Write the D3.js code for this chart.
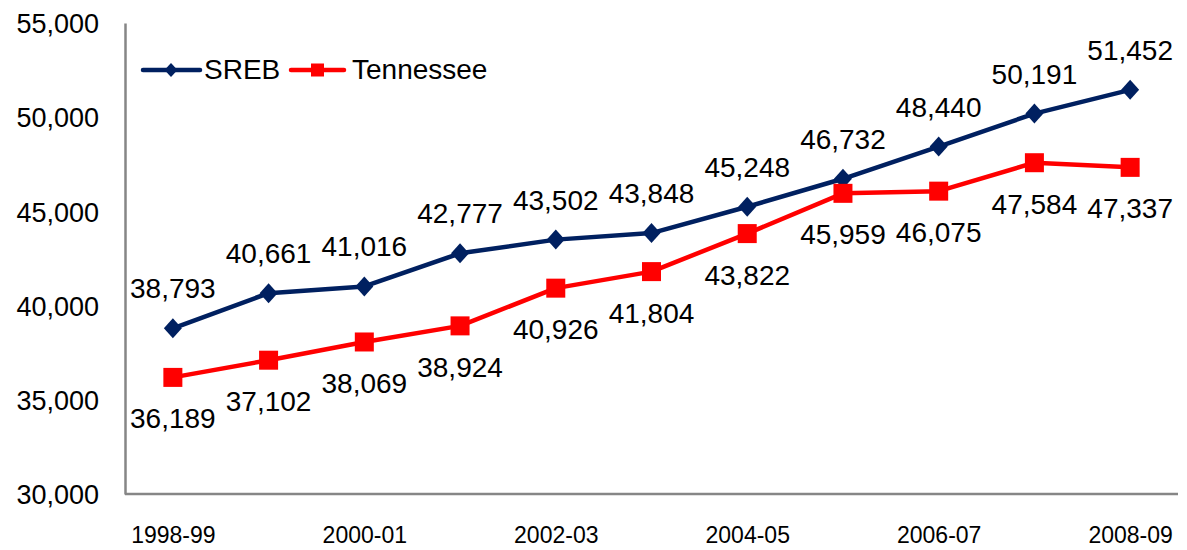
<!DOCTYPE html>
<html><head><meta charset="utf-8">
<script src="https://cdn.jsdelivr.net/npm/d3@7"></script>
<style>body{margin:0;background:#fff;} text{font-family:"Liberation Sans",Arial,sans-serif;}</style>
</head><body>
<svg id="c" width="1187" height="550"></svg>
<script>
const categories = ["1998-99","1999-00","2000-01","2001-02","2002-03","2003-04","2004-05","2005-06","2006-07","2007-08","2008-09"];
const sreb = [38793,40661,41016,42777,43502,43848,45248,46732,48440,50191,51452];
const tennessee = [36189,37102,38069,38924,40926,41804,43822,45959,46075,47584,47337];
const yTicks = [30000,35000,40000,45000,50000,55000];
const xTickLabels = ["1998-99","2000-01","2002-03","2004-05","2006-07","2008-09"];

const svg = d3.select("#c");
const L = 125, R = 1178, T = 23, B = 494;
const x = d3.scalePoint().domain(categories).range([L, R]).padding(0.5);
const y = d3.scaleLinear().domain([30000,55000]).range([B, T]);
const fmt = d3.format(",");
const FS = 27, LFS = 28;

// axes
const ya = svg.append("g").attr("transform",`translate(${L},0)`).call(d3.axisLeft(y).tickValues(yTicks).tickSize(0).tickPadding(26).tickFormat(fmt));
ya.select(".domain").attr("stroke","#868686").attr("stroke-width",2.5);
ya.selectAll("text").attr("font-size",FS).attr("fill","#000").attr("font-family","Liberation Sans, Arial, sans-serif").attr("dy","0.36em");

const xa = svg.append("g").attr("transform",`translate(0,${B})`).call(d3.axisBottom(x).tickValues(xTickLabels).tickSize(0).tickPadding(33));
xa.select(".domain").attr("stroke","#868686").attr("stroke-width",2.5).attr("d",`M${L},0H${R}`);
xa.selectAll("text").attr("font-size",23).attr("fill","#000").attr("font-family","Liberation Sans, Arial, sans-serif");

const line = d3.line().x((d,i)=>x(categories[i])).y(d=>y(d));
const navy = "#002060", red = "#ff0000";

svg.append("path").datum(sreb).attr("d",line).attr("fill","none").attr("stroke",navy).attr("stroke-width",4.5).attr("stroke-linejoin","round");
svg.append("path").datum(tennessee).attr("d",line).attr("fill","none").attr("stroke",red).attr("stroke-width",4.5).attr("stroke-linejoin","round");

const diamond = (cx,cy,h,w)=>`M${cx},${cy-h}L${cx+w},${cy}L${cx},${cy+h}L${cx-w},${cy}Z`;
svg.selectAll(".sd").data(sreb).enter().append("path").attr("d",(d,i)=>diamond(x(categories[i]),y(d),10,9)).attr("fill",navy);
svg.selectAll(".tq").data(tennessee).enter().append("rect")
  .attr("x",(d,i)=>x(categories[i])-9.5).attr("y",d=>y(d)-9.5).attr("width",19).attr("height",19).attr("fill",red);

svg.selectAll(".sl").data(sreb).enter().append("text")
  .attr("x",(d,i)=>x(categories[i])).attr("y",d=>y(d)-30).attr("text-anchor","middle")
  .attr("font-size",LFS).attr("fill","#000").text(d=>fmt(d));
svg.selectAll(".tl").data(tennessee).enter().append("text")
  .attr("x",(d,i)=>x(categories[i])).attr("y",d=>y(d)+51).attr("text-anchor","middle")
  .attr("font-size",LFS).attr("fill","#000").text(d=>fmt(d));

// legend
const lg = svg.append("g");
lg.append("line").attr("x1",143).attr("x2",200).attr("y1",70).attr("y2",70).attr("stroke",navy).attr("stroke-width",4.5).attr("stroke-linecap","round");
lg.append("path").attr("d",diamond(171,70,7,6.5)).attr("fill",navy);
lg.append("text").attr("x",204).attr("y",79).attr("font-size",28).text("SREB");
lg.append("line").attr("x1",291).attr("x2",344).attr("y1",70).attr("y2",70).attr("stroke",red).attr("stroke-width",4.5).attr("stroke-linecap","round");
lg.append("rect").attr("x",311).attr("y",63.5).attr("width",13).attr("height",13).attr("fill",red);
lg.append("text").attr("x",352).attr("y",79).attr("font-size",28).text("Tennessee");
</script>
</body></html>
